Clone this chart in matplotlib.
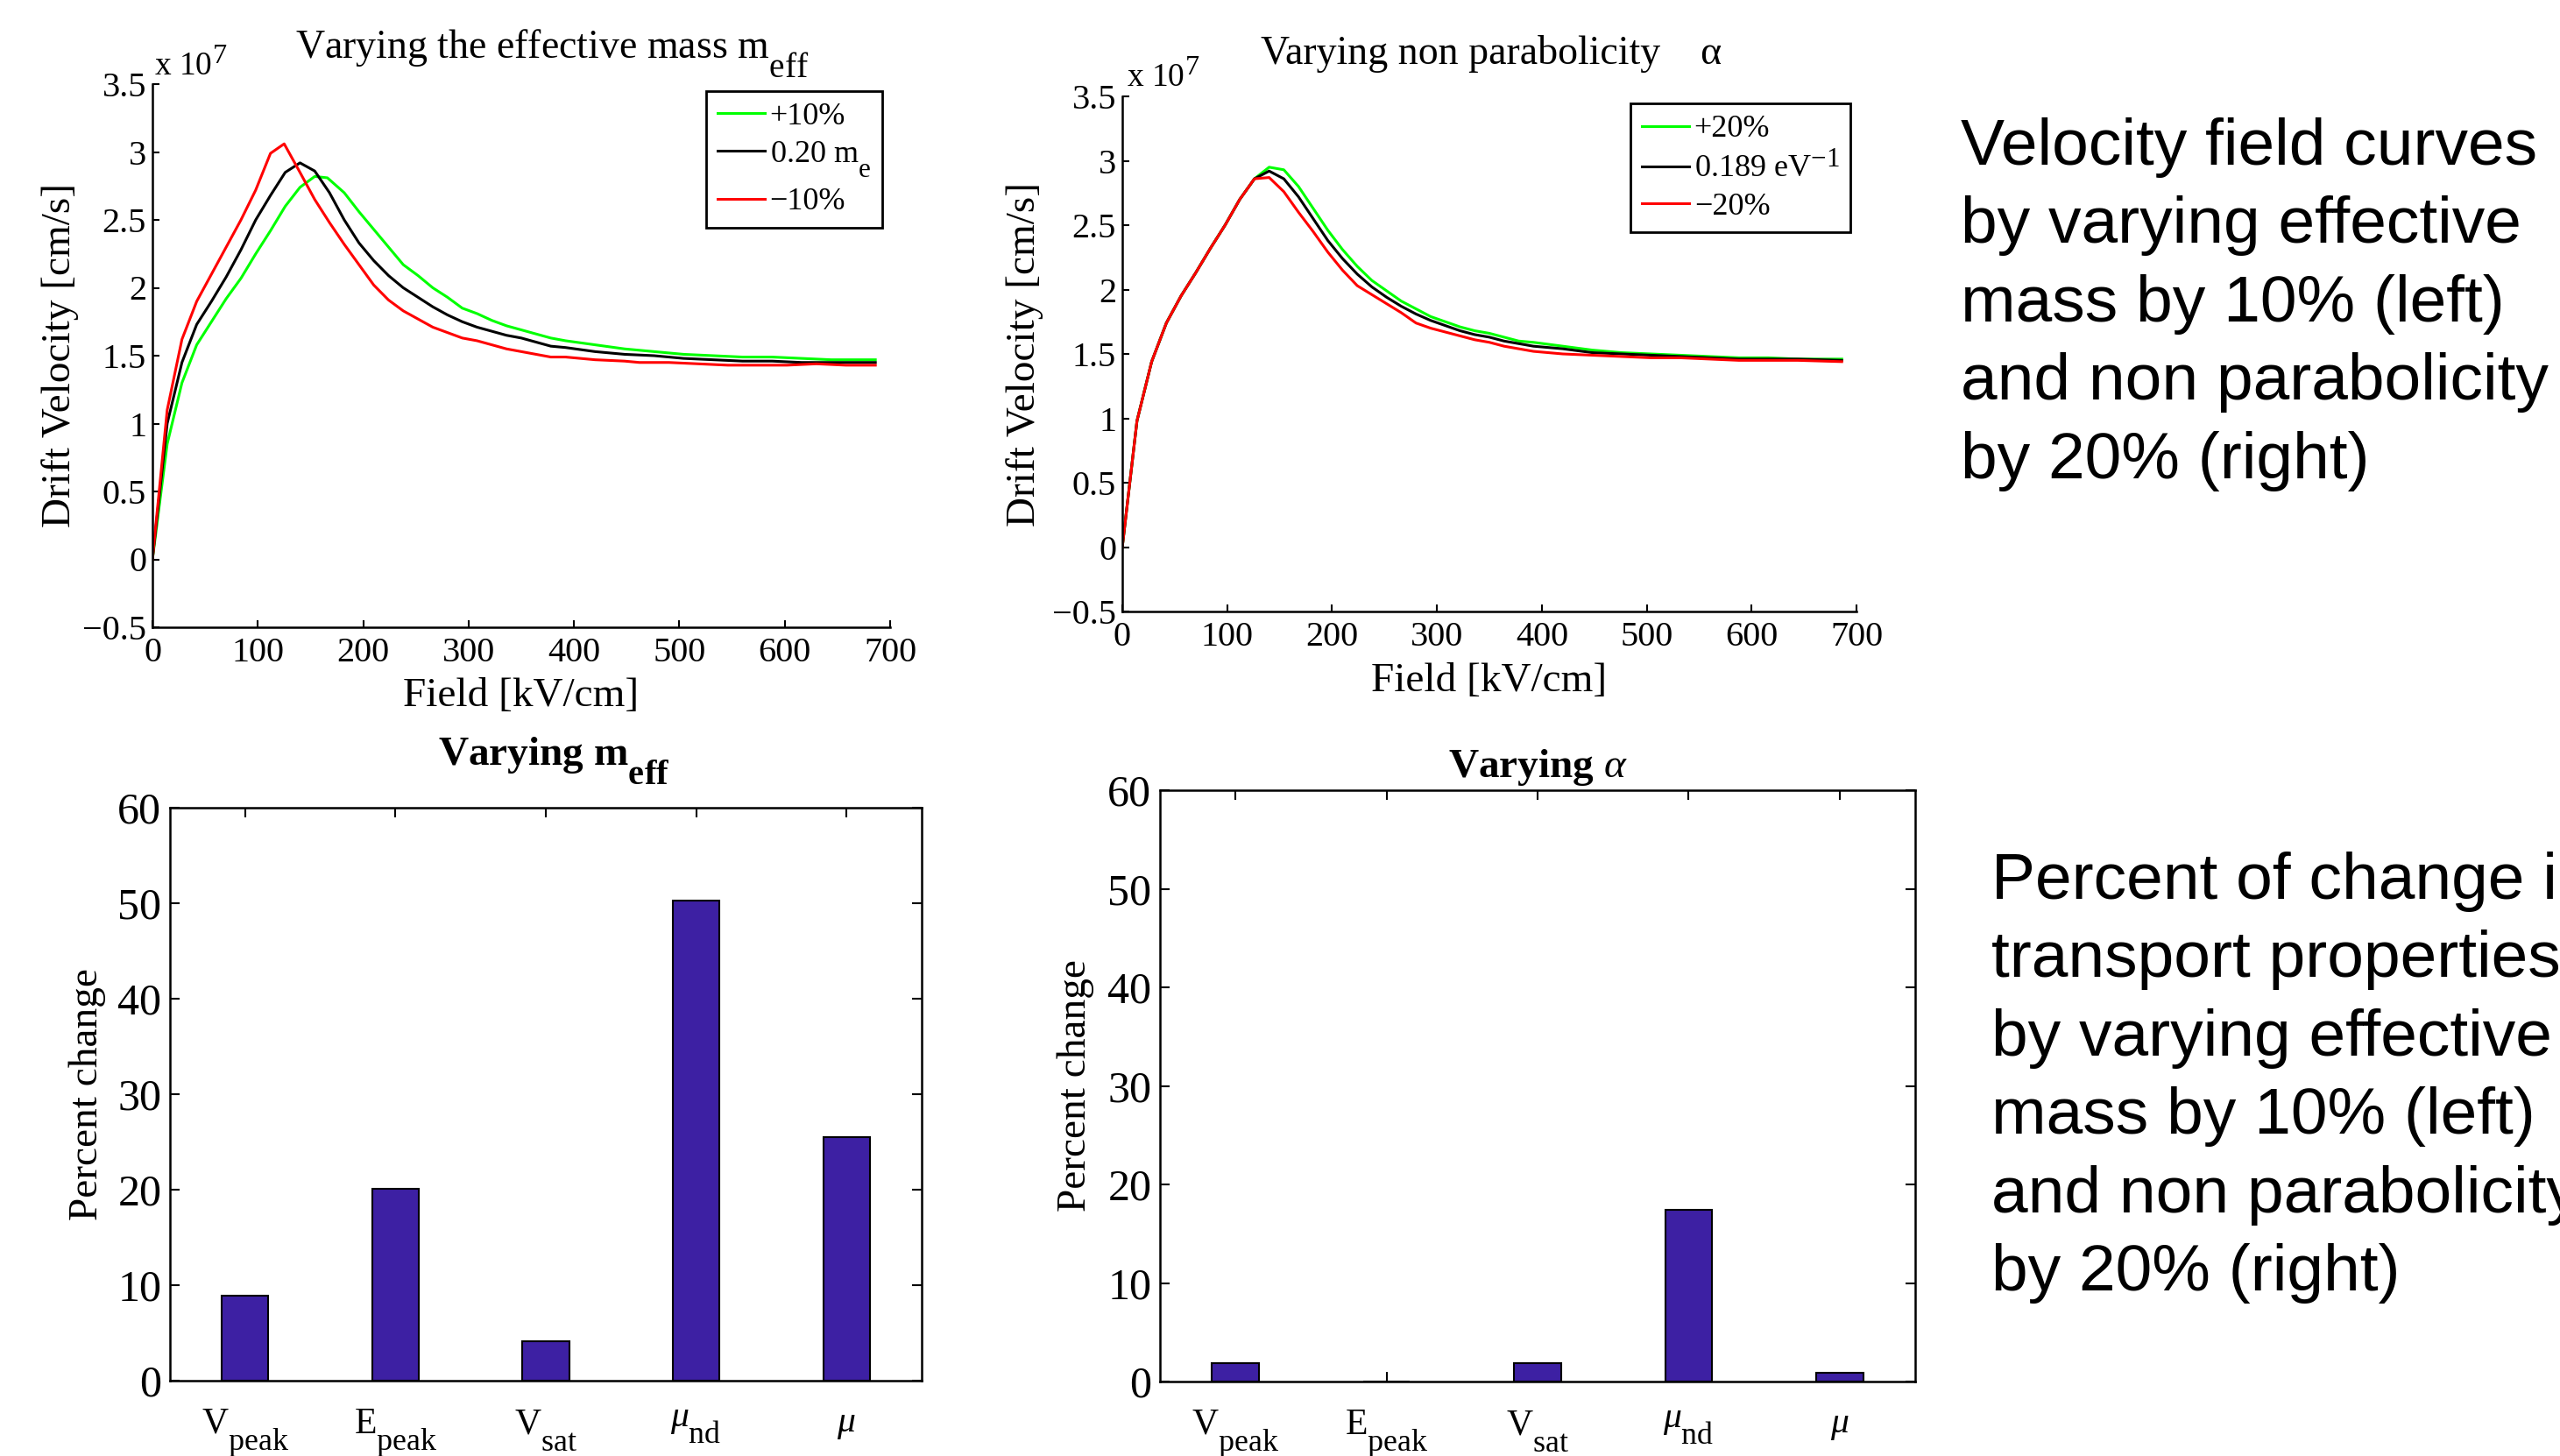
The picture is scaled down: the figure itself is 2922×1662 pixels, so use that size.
import numpy as np
import matplotlib
matplotlib.use('Agg')
import matplotlib.pyplot as plt
from matplotlib.ticker import FuncFormatter, FixedLocator

# MATLAB-like sub/superscripts: larger scripts, deeper subscript drop
try:
    import matplotlib._mathtext as _mt
    _mt.SHRINK_FACTOR = 0.86
    _mt.FontConstantsBase.sub1 = 1.05
except Exception:
    pass

plt.rcParams['font.family'] = ['Liberation Serif', 'DejaVu Serif']
plt.rcParams['mathtext.fontset'] = 'custom'
plt.rcParams['mathtext.rm'] = 'Liberation Serif'
plt.rcParams['mathtext.it'] = 'Liberation Serif:italic'
plt.rcParams['mathtext.bf'] = 'Liberation Serif:bold'
plt.rcParams['axes.unicode_minus'] = True

# ---------------- data: varying effective mass (x in kV/cm, v in 1e7 cm/s) ----------------
mass_plus_E = [0, 14, 28, 42, 56, 70, 84, 98, 112, 126, 140, 154, 166, 182, 196, 210, 224, 238,
               252, 266, 280, 294, 308, 322, 336, 350, 364, 378, 392, 420, 448, 476, 504, 532,
               560, 588, 616, 644, 686]
mass_plus_v = [0, 0.85, 1.30, 1.58, 1.75, 1.92, 2.07, 2.25, 2.42, 2.60, 2.74, 2.82, 2.81, 2.70,
               2.56, 2.43, 2.30, 2.17, 2.09, 2.00, 1.93, 1.85, 1.81, 1.76, 1.72, 1.69, 1.66, 1.63,
               1.61, 1.58, 1.55, 1.53, 1.51, 1.50, 1.49, 1.49, 1.48, 1.47, 1.47]

mass_ref_E = [0, 14, 28, 42, 56, 70, 84, 98, 112, 126, 140, 154, 168, 182, 196, 210, 224, 238,
              252, 266, 280, 294, 308, 322, 336, 350, 364, 378, 392, 420, 448, 476, 504, 532,
              560, 588, 616, 644, 686]
mass_ref_v = [0, 1.00, 1.45, 1.73, 1.90, 2.08, 2.28, 2.50, 2.68, 2.85, 2.92, 2.86, 2.70, 2.50,
              2.33, 2.20, 2.09, 2.00, 1.93, 1.86, 1.80, 1.75, 1.71, 1.68, 1.65, 1.63, 1.60, 1.57,
              1.56, 1.53, 1.51, 1.50, 1.48, 1.47, 1.46, 1.46, 1.45, 1.45, 1.45]

mass_minus_E = [0, 14, 28, 42, 56, 70, 84, 98, 112, 125, 140, 154, 168, 182, 196, 210, 224, 238,
                252, 266, 280, 294, 308, 322, 336, 350, 364, 378, 392, 420, 448, 462, 490, 518,
                546, 574, 602, 630, 658, 686]
mass_minus_v = [0, 1.10, 1.62, 1.90, 2.10, 2.30, 2.50, 2.72, 2.99, 3.06, 2.85, 2.65, 2.48, 2.32,
                2.17, 2.02, 1.91, 1.83, 1.77, 1.71, 1.67, 1.63, 1.61, 1.58, 1.55, 1.53, 1.51, 1.49,
                1.49, 1.47, 1.46, 1.45, 1.45, 1.44, 1.43, 1.43, 1.43, 1.44, 1.43, 1.43]

# ---------------- data: varying non parabolicity ----------------
np_E = [0, 14, 28, 42, 56, 70, 84, 98, 112, 126, 140, 154, 168, 182, 196, 210, 224, 238, 252,
        266, 280, 294, 308, 322, 336, 350, 364, 378, 392, 420, 448, 476, 504, 532, 560, 588,
        616, 644, 686]
np_plus_v = [0, 0.98, 1.44, 1.74, 1.95, 2.13, 2.32, 2.50, 2.70, 2.86, 2.95, 2.93, 2.80, 2.63,
             2.46, 2.31, 2.18, 2.07, 1.99, 1.91, 1.85, 1.79, 1.75, 1.71, 1.68, 1.66, 1.63, 1.60,
             1.59, 1.56, 1.53, 1.51, 1.50, 1.49, 1.48, 1.47, 1.47, 1.46, 1.46]
np_ref_v = [0, 0.98, 1.44, 1.74, 1.95, 2.13, 2.32, 2.50, 2.70, 2.86, 2.92, 2.86, 2.72, 2.55,
            2.38, 2.24, 2.12, 2.02, 1.94, 1.87, 1.81, 1.76, 1.72, 1.68, 1.65, 1.63, 1.60, 1.58,
            1.56, 1.54, 1.51, 1.50, 1.49, 1.48, 1.47, 1.46, 1.46, 1.46, 1.45]
np_minus_v = [0, 0.98, 1.44, 1.74, 1.95, 2.13, 2.32, 2.50, 2.70, 2.86, 2.87, 2.76, 2.60, 2.45,
              2.29, 2.15, 2.03, 1.96, 1.89, 1.82, 1.74, 1.70, 1.67, 1.64, 1.61, 1.59, 1.56, 1.54,
              1.52, 1.50, 1.49, 1.48, 1.47, 1.47, 1.46, 1.45, 1.45, 1.45, 1.44]

# ---------------- data: percent change bars ----------------
bar_labels = [r'$\mathrm{V}_{\mathrm{peak}}$', r'$\mathrm{E}_{\mathrm{peak}}$',
              r'$\mathrm{V}_{\mathrm{sat}}$', r'$\mu_{\mathrm{nd}}$', r'$\mu$']
pct_mass = [8.9, 20.1, 4.1, 50.3, 25.5]
pct_alpha = [1.9, 0.0, 1.9, 17.4, 0.85]

side_text_1 = ["Velocity field curves", "by varying effective", "mass by 10% (left)",
               "and non parabolicity", "by 20% (right)"]
side_text_2 = ["Percent of change in", "transport properties", "by varying effective",
               "mass by 10% (left)", "and non parabolicity", "by 20% (right)"]

# ---------------- figure ----------------
W, H = 2922, 1662
fig = plt.figure(figsize=(W / 100, H / 100), dpi=100)
fig.patch.set_facecolor('white')


def rect(l, r, t, b):
    return [l / W, 1 - b / H, (r - l) / W, (b - t) / H]


def fmt(v, pos):
    s = f"{v:g}"
    return s.replace('-', '\u2212')


def style_line_axes(ax):
    ax.set_xlim(0, 700)
    ax.set_ylim(-0.5, 3.5)
    ax.spines['top'].set_visible(False)
    ax.spines['right'].set_visible(False)
    for s in ('left', 'bottom'):
        ax.spines[s].set_linewidth(1.8)
    ax.xaxis.set_major_locator(FixedLocator(np.arange(0, 701, 100)))
    ax.yaxis.set_major_locator(FixedLocator(np.arange(-0.5, 3.51, 0.5)))
    ax.xaxis.set_major_formatter(FuncFormatter(fmt))
    ax.yaxis.set_major_formatter(FuncFormatter(fmt))
    ax.tick_params(direction='in', length=6, width=1.5, labelsize=29)
    ax.tick_params(axis='x', pad=8)
    ax.tick_params(axis='y', pad=5)


GREEN, BLACK, RED = '#00ff00', '#000000', '#ff0000'
LW = 2.2
LEG_KW = dict(loc='upper right', borderaxespad=0, fontsize=26, fancybox=False,
              edgecolor='black', framealpha=1, handlelength=1.5, handletextpad=0.15,
              borderpad=0.35, labelspacing=0.25)

# --- top-left ---
ax1 = fig.add_axes(rect(174, 1016, 96, 716))
style_line_axes(ax1)
l1, = ax1.plot(mass_plus_E, mass_plus_v, color=GREEN, lw=LW)
l2, = ax1.plot(mass_ref_E, mass_ref_v, color=BLACK, lw=LW)
l3, = ax1.plot(mass_minus_E, mass_minus_v, color=RED, lw=LW)
ax1.set_xlabel('Field [kV/cm]', fontsize=34)
ax1.set_ylabel('Drift Velocity [cm/s]', fontsize=34)
ax1.xaxis.set_label_coords(0.5, -0.092)
ax1.yaxis.set_label_coords(-0.10, 0.5)
leg1 = ax1.legend([l1, l2, l3], ['+10%', r'0.20 m$_{\mathrm{e}}$', '\u221210%'],
                  bbox_to_anchor=(0.989, 0.987), **LEG_KW)
leg1.get_frame().set_linewidth(2.0)
ax1.text(0.002, 1.016, r'x 10$^{7}$', transform=ax1.transAxes, fontsize=27,
         ha='left', va='baseline')
fig.text(630 / W, 1 - 67 / H, r'Varying the effective mass m$_{\mathrm{eff}}$', fontsize=33,
         ha='center', va='baseline')

# --- top-right ---
ax2 = fig.add_axes(rect(1281, 2119, 110, 698))
style_line_axes(ax2)
k1, = ax2.plot(np_E, np_plus_v, color=GREEN, lw=LW)
k2, = ax2.plot(np_E, np_ref_v, color=BLACK, lw=LW)
k3, = ax2.plot(np_E, np_minus_v, color=RED, lw=LW)
ax2.set_xlabel('Field [kV/cm]', fontsize=34)
ax2.set_ylabel('Drift Velocity [cm/s]', fontsize=34)
ax2.xaxis.set_label_coords(0.5, -0.10)
ax2.yaxis.set_label_coords(-0.107, 0.5)
leg2 = ax2.legend([k1, k2, k3], ['+20%', r'0.189 eV$^{-1}$', '\u221220%'],
                  bbox_to_anchor=(0.992, 0.986), **LEG_KW)
leg2.get_frame().set_linewidth(2.0)
ax2.text(0.006, 1.018, r'x 10$^{7}$', transform=ax2.transAxes, fontsize=27,
         ha='left', va='baseline')
fig.text(1702 / W, 1 - 73 / H, 'Varying non parabolicity    \u03b1', fontsize=33,
         ha='center', va='baseline')


# --- bar charts ---
def style_bar_axes(ax, values, title, title_x, title_y):
    pos = np.arange(1, len(values) + 1)
    ax.bar(pos, values, width=0.31, color='#3d20a3', edgecolor='black', linewidth=1.5, zorder=2)
    ax.set_xlim(0.5, 5.5)
    ax.set_ylim(0, 60)
    ax.set_xticks(pos)
    ax.set_xticklabels(bar_labels)
    ax.set_yticks(np.arange(0, 61, 10))
    for s in ax.spines.values():
        s.set_linewidth(1.8)
    ax.tick_params(direction='in', length=8, width=1.5, top=True, right=True)
    ax.tick_params(axis='y', labelsize=36, pad=7)
    ax.tick_params(axis='x', labelsize=30, pad=22)
    ax.set_ylabel('Percent change', fontsize=34)
    fig.text(title_x / W, 1 - title_y / H, title, fontsize=34, fontweight='bold',
             ha='center', va='baseline')


ax3 = fig.add_axes(rect(194, 1052, 922, 1576))
style_bar_axes(ax3, pct_mass, r'Varying m$_{\mathbf{eff}}$', 632, 874)
ax3.yaxis.set_label_coords(-0.085, 0.5)

ax4 = fig.add_axes(rect(1324, 2186, 902, 1577))
style_bar_axes(ax4, pct_alpha, r'Varying $\alpha$', 1755, 887)
ax4.yaxis.set_label_coords(-0.087, 0.5)

# --- side descriptions ---
for i, line in enumerate(side_text_1):
    fig.text(2238 / W, 1 - (188 + 89.4 * i) / H, line, fontsize=54,
             family=['Liberation Sans', 'DejaVu Sans'], ha='left', va='baseline')
for i, line in enumerate(side_text_2):
    fig.text(2273 / W, 1 - (1026 + 89.4 * i) / H, line, fontsize=54,
             family=['Liberation Sans', 'DejaVu Sans'], ha='left', va='baseline')

fig.savefig('out.png', dpi=100, facecolor='white')
